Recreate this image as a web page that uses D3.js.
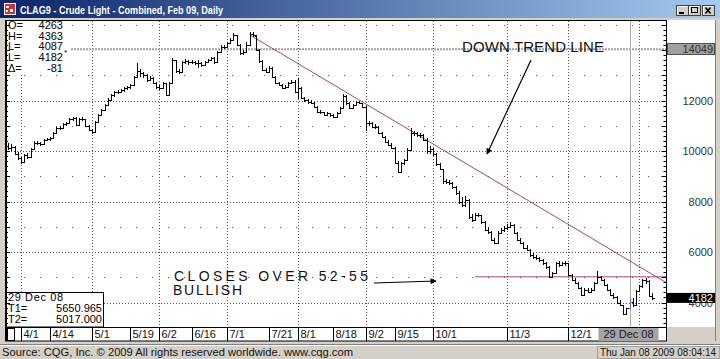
<!DOCTYPE html>
<html><head><meta charset="utf-8">
<script src="https://cdn.jsdelivr.net/npm/d3@7"></script>
<style>
html,body{margin:0;padding:0;background:#d4d0c8;overflow:hidden;}
svg{display:block;}
text{font-family:"Liberation Sans",Arial,sans-serif;}
</style></head><body>
<svg id="c" width="720" height="359"></svg>
<script>
// ---------- DATA ----------
const title = "CLAG9 - Crude Light - Combined, Feb 09, Daily";
const firstDate = "2008-03-26";
const holidays = ["2008-05-26","2008-07-04","2008-09-01","2008-11-27","2008-12-25","2009-01-01"];
const opens = [
10200,10120,10150,9900,9720,9560,9840,9780,10080,10330,
10300,10270,10430,10470,10510,10710,10910,10900,11070,11100,
11270,11300,11030,11270,11260,10990,10830,10750,11150,11430,
11620,11820,12020,12210,12330,12330,12410,12490,12530,12610,
12930,13150,13090,13010,12810,12890,12690,12530,12490,12690,
12210,12690,13600,13170,13130,13520,13560,13520,13520,13480,
13480,13400,13520,13600,13680,13520,13920,14120,14120,14270,
14390,14590,14200,13880,13920,14200,14650,14560,14000,13550,
13200,13130,13290,12930,12690,12610,12490,12530,12690,12730,
12330,12490,12100,12020,11940,11900,11740,11540,11540,11430,
11500,11430,11340,11500,11700,12180,11900,11700,11820,11940,
11900,11740,11100,11100,10950,10950,10710,10550,10360,10240,
10120,9520,9170,9520,9640,10040,10700,10710,10630,10630,
10440,10000,10080,9880,9480,9290,8800,8770,8730,8570,
8340,7980,7860,8060,7390,7270,7460,7460,7190,6870,
6790,6480,6360,6750,6870,6950,6990,7070,6750,6480,
6360,6160,6080,5880,5800,5760,5680,5560,5400,5010,
5170,5560,5480,5560,5560,5090,4890,4770,4570,4300,
4500,4420,4500,4770,5010,4890,4690,4500,4300,4236,
3991,3898,3535,3771,4002,3903,4460,4634,4881,4858,
4263];
const highs = [
10300,10260,10180,9950,9780,9900,9920,10120,10380,10400,
10350,10480,10520,10560,10760,10960,10980,11120,11160,11320,
11360,11330,11300,11340,11280,11040,10880,11200,11480,11680,
11880,12080,12260,12380,12400,12460,12540,12590,12660,12980,
13500,13250,13140,13030,12960,12920,12720,12600,12740,12700,
12740,13680,13620,13240,13580,13640,13620,13600,13560,13600,
13520,13580,13660,13740,13720,13980,14180,14200,14330,14460,
14680,14600,14240,14000,14300,14720,14700,14600,14050,13600,
13300,13380,13320,12980,12740,12640,12600,12740,12800,12800,
12880,12520,12150,12060,12020,11930,11780,11640,11560,11560,
11520,11480,11540,11740,12260,12200,11940,11880,12000,11990,
11920,11800,11200,11140,11060,10980,10760,10600,10420,10300,
10150,9600,9580,9700,10100,10900,10800,10760,10700,10660,
10500,10180,10120,9920,9540,9300,8880,8840,8780,8600,
8400,8160,8200,8100,7500,7560,7560,7480,7220,6980,
6820,6560,6820,6960,7040,7100,7190,7090,6780,6560,
6400,6260,6120,5960,5880,5800,5720,5600,5440,5220,
5600,5640,5620,5640,5580,5140,4980,4800,4620,4560,
4560,4560,4820,5250,5060,4920,4720,4540,4380,4260,
4080,3920,3800,4180,4160,4500,4680,4930,4970,4880,
4363];
const lows = [
10020,10000,9860,9650,9480,9540,9700,9760,10050,10220,
10180,10240,10380,10400,10480,10690,10820,10860,11000,11060,
11200,10980,11000,11180,10950,10780,10680,10720,11100,11400,
11580,11780,11980,12150,12240,12280,12350,12420,12450,12560,
12900,12950,12900,12750,12760,12640,12460,12400,12450,12180,
12200,12660,13100,13050,13100,13440,13420,13440,13400,13300,
13320,13360,13480,13560,13460,13500,13880,14040,14080,14220,
14360,14150,13820,13820,13880,14180,14520,13960,13500,13150,
13080,13100,12880,12640,12560,12440,12440,12500,12650,12280,
12050,12050,11960,11880,11850,11700,11500,11480,11380,11400,
11360,11300,11300,11460,11680,11840,11660,11650,11780,11850,
11700,10780,11000,10900,10880,10660,10500,10300,10200,10060,
9480,9120,9140,9450,9600,10000,10580,10560,10520,10380,
9880,9900,9820,9420,9240,8700,8680,8640,8500,8260,
7900,7780,7800,7300,7200,7240,7380,7120,6820,6700,
6420,6300,6340,6700,6780,6880,6940,6700,6420,6300,
6100,6020,5820,5740,5700,5620,5500,5340,4960,4980,
5140,5420,5440,5460,5040,4840,4720,4520,4260,4280,
4360,4380,4460,4740,4840,4640,4440,4260,4140,3940,
3860,3500,3520,3740,3840,3880,4420,4580,4750,4220,
4087];
const closes = [
10120,10150,9900,9720,9560,9840,9780,10080,10330,10300,
10270,10430,10470,10510,10710,10910,10900,11070,11100,11270,
11300,11030,11270,11260,10990,10830,10750,11150,11430,11620,
11820,12020,12210,12330,12330,12410,12490,12530,12610,12930,
13150,13090,13010,12810,12890,12690,12530,12490,12690,12210,
12690,13600,13170,13130,13520,13560,13520,13520,13480,13480,
13400,13520,13600,13680,13520,13920,14120,14120,14270,14390,
14590,14200,13880,13920,14200,14650,14590,14000,13550,13200,
13130,13290,12930,12690,12610,12490,12530,12690,12730,12330,
12490,12100,12020,11940,11900,11740,11540,11540,11430,11500,
11430,11340,11500,11700,12180,11900,11700,11820,11940,11900,
11740,11100,11100,10950,10950,10710,10550,10360,10240,10120,
9520,9170,9520,9640,10040,10700,10710,10630,10630,10440,
10000,10080,9880,9480,9290,8800,8770,8730,8570,8340,
7980,7860,8060,7390,7270,7460,7460,7190,6870,6790,
6480,6360,6750,6870,6950,6990,7070,6750,6480,6360,
6160,6080,5880,5800,5760,5680,5560,5400,5010,5170,
5560,5480,5560,5560,5090,4890,4770,4570,4300,4500,
4420,4500,4770,5010,4890,4690,4500,4300,4236,3991,
3898,3535,3771,4002,3903,4460,4634,4881,4858,4263,
4182];
const dateTickDates  = ["2008-04-01","2008-04-14","2008-05-01","2008-05-19","2008-06-02","2008-06-16","2008-07-01","2008-07-21","2008-08-01","2008-08-18","2008-09-02","2008-09-15","2008-10-01","2008-11-03","2008-12-01"];
const dateTickLabels = ["4/1","4/14","5/1","5/19","6/2","6/16","7/1","7/21","8/1","8/18","9/2","9/15","10/1","11/3","12/1"];
const monthGridDates = ["2008-04-01","2008-05-01","2008-06-02","2008-07-01","2008-08-01","2008-09-02","2008-10-01","2008-11-03","2008-12-01","2009-01-02"];
const yTickValues = [4000,6000,8000,10000,12000];
const yMinorRows = [5000,7000,9000,11000,13000,15000];
const cursorDate = "2008-12-29";
const cursorLabel = "29 Dec 08";
const markerLevel = 14049;
const lastPrice = 4182;
const infoLabels = ["O=","H=","L=","L=","\u0394="];
const infoValues = ["4263","4363","4087","4182","-81"];
const trendStart = {date:"2008-07-11", value:14600};
const trendRef   = {date:"2008-12-29", value:5650.965};
const supportStart = {date:"2008-10-20", value:5017};
const footLeft = "Source: CQG, Inc. \u00a9 2009 All rights reserved worldwide. www.cqg.com";
const footRight = "Thu Jan 08 2009 08:04:14";

// ---------- trading calendar ----------
const fmt = d3.utcFormat("%Y-%m-%d");
const dates = [];
{
  let d = new Date(firstDate + "T00:00:00Z");
  while (dates.length < closes.length) {
    const wd = d.getUTCDay(), s = fmt(d);
    if (wd !== 0 && wd !== 6 && !holidays.includes(s)) dates.push(s);
    d = d3.utcDay.offset(d, 1);
  }
}
const idx = s => dates.indexOf(s);

// ---------- layout ----------
const svg = d3.select("#c");
const L = 5, R = 666.5, T = 20, B = 327;
const x = d3.scaleLinear().domain([0, closes.length - 1]).range([8.1, 652.1]);
const y = d3.scaleLinear().domain([4000, 12000]).range([302.5, 100.5]);
const px = v => Math.round(x(v)) + 0.5;
const py = v => Math.round(y(v)) + 0.5;

const defs = svg.append("defs");
const g1 = defs.append("linearGradient").attr("id","tb").attr("x1","0").attr("x2","1");
g1.append("stop").attr("offset","0").attr("stop-color","#0a246a");
g1.append("stop").attr("offset","1").attr("stop-color","#a6caf0");
defs.append("marker").attr("id","ah").attr("viewBox","0 0 10 10").attr("refX",9).attr("refY",5)
  .attr("markerWidth",9).attr("markerHeight",6).attr("markerUnits","userSpaceOnUse").attr("orient","auto")
  .append("path").attr("d","M0,0L10,5L0,10Z").attr("fill","#000");

// window frame
svg.append("rect").attr("width",720).attr("height",359).attr("fill","#d4d0c8");
svg.append("rect").attr("x",0).attr("y",0).attr("width",720).attr("height",18).attr("fill","url(#tb)");
// icon
svg.append("rect").attr("x",4).attr("y",3).attr("width",12).attr("height",12).attr("fill","#fff");
svg.append("rect").attr("x",5).attr("y",4).attr("width",10).attr("height",10).attr("fill","#d03030");
svg.append("path").attr("d","M6,6h3v2h-3zM10,9h3v3h-3zM6,10h2v2h-2z").attr("fill","#fff");
svg.append("text").attr("x",20).attr("y",14).attr("fill","#fff").attr("font-weight","bold")
  .attr("font-size",11).attr("textLength",203).attr("lengthAdjust","spacingAndGlyphs").text(title);
// buttons
[[676,"min"],[688,"max"],[702,"close"]].forEach(([bx,k])=>{
  const w = 12;
  svg.append("rect").attr("x",bx+0.5).attr("y",5.5).attr("width",w).attr("height",10).attr("fill","#d4d0c8").attr("stroke","#404040");
  svg.append("path").attr("d",`M${bx+1.5},14.5V6.5H${bx+w-0.5}`).attr("stroke","#fff").attr("fill","none");
  if(k==="min") svg.append("rect").attr("x",bx+3).attr("y",12).attr("width",5).attr("height",2).attr("fill","#000");
  if(k==="max") svg.append("rect").attr("x",bx+3.5).attr("y",7.5).attr("width",6).attr("height",5).attr("fill","none").attr("stroke","#000");
  if(k==="close") svg.append("path").attr("d",`M${bx+3.5},7.5L${bx+8.5},13.5M${bx+8.5},7.5L${bx+3.5},13.5`).attr("stroke","#000").attr("stroke-width",1.6);
});

// plot + right panel backgrounds
svg.append("rect").attr("x",L).attr("y",T).attr("width",715-L).attr("height",B-T).attr("fill","#fff");
svg.append("rect").attr("x",L).attr("y",B).attr("width",R-L).attr("height",14).attr("fill","#fff");

// grid: minor rows (sparse dots)
svg.append("g").selectAll("line").data(yMinorRows).join("line")
  .attr("x1",L+3).attr("x2",R).attr("y1",d=>py(d)).attr("y2",d=>py(d))
  .attr("stroke","#555").attr("stroke-dasharray","1,15");
// grid: major rows
svg.append("g").selectAll("line").data(yTickValues).join("line")
  .attr("x1",L+3).attr("x2",R).attr("y1",d=>py(d)).attr("y2",d=>py(d))
  .attr("stroke","#555").attr("stroke-dasharray","1,2");
// grid: month verticals
svg.append("g").selectAll("line").data(monthGridDates).join("line")
  .attr("x1",d=>px(idx(d))).attr("x2",d=>px(idx(d))).attr("y1",T+1).attr("y2",B)
  .attr("stroke","#555").attr("stroke-dasharray","1,2");

// marker level line 14049
svg.append("line").attr("x1",L).attr("x2",R).attr("y1",y(markerLevel)+0.5).attr("y2",y(markerLevel)+0.5)
  .attr("stroke","#a0a0a0").attr("stroke-width",2).attr("stroke-dasharray","2,1");

// cursor vertical line
svg.append("line").attr("x1",px(idx(cursorDate))).attr("x2",px(idx(cursorDate))).attr("y1",T).attr("y2",B)
  .attr("stroke","#a8a8a8");

// trend lines
const ti0 = idx(trendStart.date), ti1 = idx(trendRef.date);
const slope = (trendRef.value - trendStart.value) / (ti1 - ti0);
const iEnd = x.invert(R);
svg.append("line").attr("x1",x(ti0)).attr("y1",y(trendStart.value))
  .attr("x2",R).attr("y2",y(trendStart.value + slope*(iEnd-ti0)))
  .attr("stroke","#a04a5c").attr("stroke-width",1);
svg.append("line").attr("x1",x(idx(supportStart.date))).attr("x2",R)
  .attr("y1",y(supportStart.value)).attr("y2",y(supportStart.value))
  .attr("stroke","#a04a5c").attr("stroke-width",1);

// OHLC bars
const bars = svg.append("g").attr("shape-rendering","crispEdges").attr("fill","none");
closes.forEach((c,i)=>{
  const xx = px(i);
  const p = `M${xx},${y(highs[i])}V${y(lows[i])}M${xx-2},${py(opens[i])}H${xx}M${xx},${py(c)}H${xx+2}`;
  bars.append("path").attr("d",p).attr("stroke", dates[i]===cursorDate ? "#6a6ac0" : "#000");
});

// info box top-left
svg.append("rect").attr("x",L+2).attr("y",T+1).attr("width",64).attr("height",53).attr("fill","#fff");
infoLabels.forEach((t,k)=>{
  const yy = 29 + k*10.7;
  svg.append("text").attr("x",8).attr("y",yy).attr("font-size",11).attr("fill","#000").text(t);
  svg.append("text").attr("x",63).attr("y",yy).attr("font-size",11).attr("fill","#000").attr("text-anchor","end").text(infoValues[k]);
});
svg.append("text").attr("x",64).attr("y",55).attr("font-size",8).attr("fill","#000").text("*");

// annotations
svg.append("text").attr("x",462).attr("y",52).attr("font-size",15).attr("fill","#111")
  .attr("textLength",142).attr("lengthAdjust","spacing").text("DOWN TREND LINE");
svg.append("line").attr("x1",531).attr("y1",60).attr("x2",487).attr("y2",154)
  .attr("stroke","#000").attr("stroke-width",1.2).attr("marker-end","url(#ah)");
svg.append("text").attr("x",174).attr("y",280.5).attr("font-size",14).attr("fill","#111")
  .attr("textLength",194).attr("lengthAdjust","spacing").text("CLOSES OVER 52-55");
svg.append("text").attr("x",173).attr("y",295).attr("font-size",14).attr("fill","#111")
  .attr("textLength",69).attr("lengthAdjust","spacing").text("BULLISH");
svg.append("line").attr("x1",374).attr("y1",283).attr("x2",436).attr("y2",281)
  .attr("stroke","#000").attr("stroke-width",1.2).attr("marker-end","url(#ah)");

// bottom-left cursor info box
svg.append("rect").attr("x",L+0.5).attr("y",292.5).attr("width",98).attr("height",34.5).attr("fill","#fff").attr("stroke","#000");
svg.append("text").attr("x",8).attr("y",301).attr("font-size",11).attr("textLength",55).attr("lengthAdjust","spacing").text(cursorLabel);
svg.append("text").attr("x",8).attr("y",312).attr("font-size",11).text("T1=");
svg.append("text").attr("x",102).attr("y",312).attr("font-size",11).attr("text-anchor","end").text(trendRef.value.toFixed(3));
svg.append("text").attr("x",8).attr("y",323).attr("font-size",11).text("T2=");
svg.append("text").attr("x",102).attr("y",323).attr("font-size",11).attr("text-anchor","end").text(supportStart.value.toFixed(3));

// plot border / axes
svg.append("rect").attr("x",L+0.5).attr("y",T+0.5).attr("width",R-L-0.5).attr("height",B-T).attr("fill","none").attr("stroke","#000");
svg.append("line").attr("x1",L+1).attr("x2",L+1).attr("y1",T).attr("y2",B).attr("stroke","#000").attr("stroke-width",2);
const minorTicks = d3.range(3200, 15201, 200);
svg.append("g").selectAll("line").data(minorTicks).join("line")
  .attr("x1",d=> d%1000===0 ? R-5 : R-3).attr("x2",R).attr("y1",d=>py(d)).attr("y2",d=>py(d)).attr("stroke","#000");
svg.append("g").selectAll("line").data(minorTicks).join("line")
  .attr("x1",L).attr("x2",d=> d%1000===0 ? L+5 : L+3).attr("y1",d=>py(d)).attr("y2",d=>py(d)).attr("stroke","#000");

// right axis labels
svg.append("g").selectAll("text").data(yTickValues).join("text")
  .attr("x",713).attr("y",d=>y(d)+4).attr("font-size",11).attr("fill","#333").attr("text-anchor","end").text(d=>d);
svg.append("rect").attr("x",667.5).attr("y",43.5).attr("width",47).attr("height",11).attr("fill","#a0a0a0").attr("stroke","#505050");
svg.append("text").attr("x",713).attr("y",53).attr("font-size",11).attr("fill","#303030").attr("text-anchor","end").text(markerLevel);
svg.append("rect").attr("x",667).attr("y",y(lastPrice)-5).attr("width",48).attr("height",10).attr("fill","#000");
svg.append("text").attr("x",713).attr("y",y(lastPrice)+4).attr("font-size",11).attr("fill","#fff").attr("text-anchor","end").text(lastPrice);
svg.append("line").attr("x1",715.5).attr("x2",715.5).attr("y1",T).attr("y2",341).attr("stroke","#808080");

// date axis
svg.append("rect").attr("x",L+0.5).attr("y",B+0.5).attr("width",R-L-0.5).attr("height",13.5).attr("fill","#fff").attr("stroke","#000");
svg.append("rect").attr("x",6.5).attr("y",328.5).attr("width",8).attr("height",12).attr("fill","#fff").attr("stroke","#000");
svg.append("line").attr("x1",7).attr("x2",7).attr("y1",328).attr("y2",341).attr("stroke","#000").attr("stroke-width",2);
dateTickDates.forEach((d,k)=>{
  const xx = px(idx(d));
  svg.append("line").attr("x1",xx).attr("x2",xx).attr("y1",B).attr("y2",341).attr("stroke","#000");
  svg.append("text").attr("x",xx+2).attr("y",338).attr("font-size",11).attr("fill","#111").text(dateTickLabels[k]);
});
const cx = px(idx(cursorDate));
svg.append("rect").attr("x",cx-32).attr("y",328).attr("width",60).attr("height",13).attr("fill","#a4a4a4");
svg.append("text").attr("x",cx-2).attr("y",338).attr("font-size",11).attr("fill","#1a1a1a").attr("text-anchor","middle").text(cursorLabel);

// status bar
svg.append("line").attr("x1",0).attr("x2",720).attr("y1",344.5).attr("y2",344.5).attr("stroke","#808080");
svg.append("line").attr("x1",0).attr("x2",720).attr("y1",345.5).attr("y2",345.5).attr("stroke","#fff");
svg.append("text").attr("x",2).attr("y",356).attr("font-size",11).attr("fill","#111")
  .attr("textLength",351).attr("lengthAdjust","spacingAndGlyphs").text(footLeft);
svg.append("rect").attr("x",597.5).attr("y",346.5).attr("width",122).attr("height",12).attr("fill","#d4d0c8").attr("stroke","#a0a0a0");
svg.append("text").attr("x",600).attr("y",356).attr("font-size",10).attr("fill","#111")
  .attr("textLength",116).attr("lengthAdjust","spacingAndGlyphs").text(footRight);
</script>
</body></html>
